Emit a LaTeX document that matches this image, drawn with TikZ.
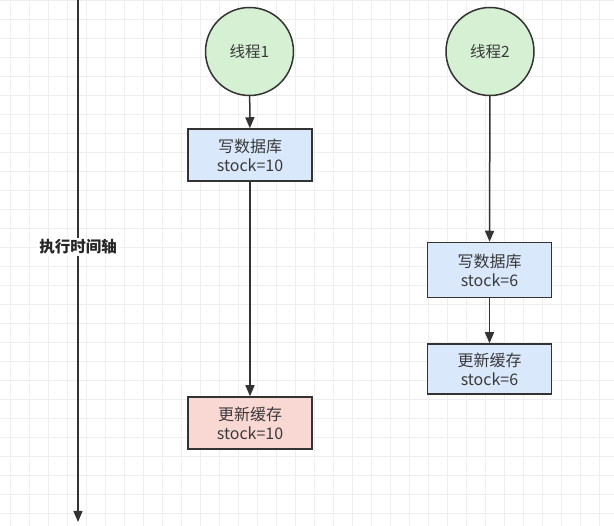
\documentclass[tikz,border=0pt]{standalone}
\usepackage{fontspec}
\setmainfont{Noto Sans CJK SC}
\usetikzlibrary{arrows.meta}
\definecolor{linec}{HTML}{333333}
\definecolor{textc}{HTML}{3A3A3A}
\definecolor{greenfill}{HTML}{D5F0D3}
\definecolor{bluefill}{HTML}{DAE8FC}
\definecolor{redfill}{HTML}{F9D7D3}
\definecolor{gridc}{HTML}{EEEEEE}
\tikzset{
  thread/.style={circle, draw=linec, line width=1.5pt, fill=greenfill,
    minimum size=88pt, inner sep=0pt, text=textc, font=\fontsize{15.5}{18}\selectfont},
  stepbox/.style={rectangle, draw=linec, line width=1.5pt, minimum width=124pt,
    minimum height=52pt, inner sep=0pt, align=center, text=textc,
    font=\fontsize{16}{19}\selectfont},
  flow/.style={draw=linec, line width=1.5pt, -{Triangle[length=11pt,width=9pt]}},
  gridline/.style={draw=gridc, line width=0.9pt},
  axislabel/.style={fill=white, inner sep=2pt, text=black!85,
    font=\bfseries\fontsize{15.5}{18}\selectfont}
}
\begin{document}
\begin{tikzpicture}[x=1pt,y=-1pt]
  \useasboundingbox (0,0) rectangle (614,526);
  \fill[white] (0,0) rectangle (614,526);
  % background grid
  \foreach \i in {-1,...,30} {\draw[gridline] ({580-19*\i},0) -- ++(0,526);}
  \foreach \i in {-3,...,24} {\draw[gridline] (0,{456-19*\i}) -- ++(614,0);}

  % time axis
  \coordinate (axtop) at (78,0);
  \coordinate (axbot) at (78,522);
  \draw[flow] (axtop) -- (axbot);
  \node[axislabel] (axis) at (78,247) {执行时间轴};

  % thread 1
  \node[thread] (t1) at (249.5,51.5) {线程1};
  \node[stepbox, fill=bluefill] (w1) at (250,155) {写数据库\\stock=10};
  \node[stepbox, fill=redfill] (c1) at (250,423) {更新缓存\\stock=10};
  \draw[flow] (t1) -- (w1);
  \draw[flow] (w1) -- (c1);

  % thread 2
  \node[thread] (t2) at (490,51.5) {线程2};
  \node[stepbox, fill=bluefill, minimum height=55pt] (w2) at (489.5,270) {写数据库\\stock=6};
  \node[stepbox, fill=bluefill, minimum height=50pt] (c2) at (489.5,369) {更新缓存\\stock=6};
  \draw[flow] (t2) -- (w2);
  \draw[flow] (w2) -- (c2);
\end{tikzpicture}
\end{document}
